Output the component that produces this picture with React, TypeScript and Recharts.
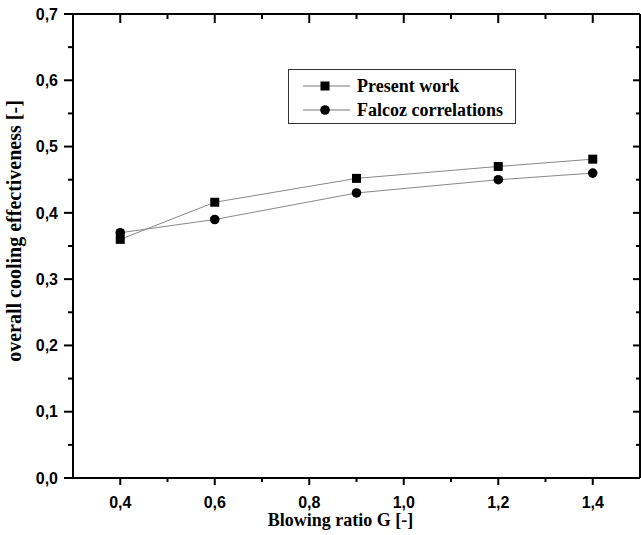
import { LineChart, Line, XAxis, YAxis, Legend, ReferenceLine } from 'recharts';

const blowingRatio = [0.4, 0.6, 0.9, 1.2, 1.4];
const presentWork = [0.36, 0.416, 0.452, 0.47, 0.481];
const falcozCorrelations = [0.37, 0.39, 0.43, 0.45, 0.46];

const xMajorTicks = [0.4, 0.6, 0.8, 1.0, 1.2, 1.4];
const xMinorTicks = [0.5, 0.7, 0.9, 1.1, 1.3];
const yMajorTicks = [0, 0.1, 0.2, 0.3, 0.4, 0.5, 0.6, 0.7];
const yMinorTicks = [0.05, 0.15, 0.25, 0.35, 0.45, 0.55, 0.65];

const data = blowingRatio.map((x, i) => ({
  x,
  present: presentWork[i],
  falcoz: falcozCorrelations[i],
}));

const X_DOMAIN: [number, number] = [0.3, 1.5];
const Y_DOMAIN: [number, number] = [0, 0.7];

// frame edges (top / right) for the inward ticks
const PLOT_TOP = 14;
const PLOT_RIGHT = 640;

const serif = '"Liberation Serif", "Times New Roman", serif';
const sans = '"Liberation Sans", Arial, sans-serif';

const fmt = (v: number) => v.toFixed(1).replace('.', ',');

const axisLine = { stroke: '#000', strokeWidth: 2 };

const XTick = (props: any) => {
  const { x, y, payload } = props;
  const major = xMajorTicks.includes(payload.value);
  return (
    <g>
      <line x1={x} x2={x} y1={y} y2={y + (major ? 7 : 4)} stroke="#000" strokeWidth={2} />
      <line x1={x} x2={x} y1={PLOT_TOP} y2={PLOT_TOP + (major ? 9 : 5)} stroke="#000" strokeWidth={2} />
      {major && (
        <text x={x} y={y + 19} dy="0.71em" textAnchor="middle" fill="#000" fontSize={16}
          fontWeight="bold" fontFamily={sans}>
          {fmt(payload.value)}
        </text>
      )}
    </g>
  );
};

const YTick = (props: any) => {
  const { x, y, payload } = props;
  const major = yMajorTicks.includes(payload.value);
  return (
    <g>
      <line x1={x - (major ? 9 : 5)} x2={x} y1={y} y2={y} stroke="#000" strokeWidth={2} />
      <line x1={PLOT_RIGHT - (major ? 7 : 4)} x2={PLOT_RIGHT} y1={y} y2={y} stroke="#000" strokeWidth={2} />
      {major && (
        <text x={x - 15} y={y} dy="0.36em" textAnchor="end" fill="#000" fontSize={16}
          fontWeight="bold" fontFamily={sans}>
          {fmt(payload.value)}
        </text>
      )}
    </g>
  );
};

const SquareDot = (props: any) => {
  const { cx, cy } = props;
  if (cx == null || cy == null) return null;
  return <rect x={cx - 4.5} y={cy - 4.5} width={9} height={9} fill="#000" />;
};

const CircleDot = (props: any) => {
  const { cx, cy } = props;
  if (cx == null || cy == null) return null;
  return <circle cx={cx} cy={cy} r={4.8} fill="#000" />;
};

const LegendBox = () => (
  <svg width={228} height={55} style={{ display: 'block' }}>
    <rect x={0.5} y={0.5} width={227} height={54} fill="#fff" stroke="#333" strokeWidth={1} />
    <line x1={15} x2={62} y1={17} y2={17} stroke="#777" strokeWidth={1} />
    <rect x={32.5} y={12.5} width={9} height={9} fill="#000" />
    <text x={69} y={17} dominantBaseline="central" fontFamily={serif} fontWeight="bold" fontSize={18} fill="#000">
      Present work
    </text>
    <line x1={15} x2={62} y1={41} y2={41} stroke="#777" strokeWidth={1} />
    <circle cx={37} cy={41} r={4.8} fill="#000" />
    <text x={69} y={41} dominantBaseline="central" fontFamily={serif} fontWeight="bold" fontSize={18} fill="#000">
      Falcoz correlations
    </text>
  </svg>
);

const YTitle = () => {
  const cx = 14;
  const cy = 231;
  return (
    <text x={cx} y={cy} transform={`rotate(-90, ${cx}, ${cy})`} textAnchor="middle" dominantBaseline="central"
      fontFamily={serif} fontWeight="bold" fontSize={20} fill="#000">
      overall cooling effectiveness [-]
    </text>
  );
};

const allX = [...xMajorTicks, ...xMinorTicks].sort((a, b) => a - b);
const allY = [...yMajorTicks, ...yMinorTicks].sort((a, b) => a - b);

export default function App() {
  return (
    <div style={{ position: 'absolute', left: 0, top: 0, background: '#fff' }}>
      <LineChart width={641} height={535} data={data} margin={{ top: 14, right: 1, bottom: 0, left: 13 }}>
        <XAxis type="number" dataKey="x" domain={X_DOMAIN} allowDataOverflow ticks={allX} interval={0}
          height={57} axisLine={axisLine} tickLine={false} tickSize={0} tickMargin={0} tick={XTick}
          label={{ value: 'Blowing ratio G [-]', position: 'insideBottom', offset: 9, dx: -16, fill: '#000',
            fontSize: 18, fontWeight: 'bold', fontFamily: serif }} />
        <YAxis type="number" domain={Y_DOMAIN} allowDataOverflow ticks={allY} interval={0}
          width={60} axisLine={axisLine} tickLine={false} tickSize={0} tickMargin={0} tick={YTick}
          label={{ content: YTitle }} />

        {/* top and right edges of the frame */}
        <ReferenceLine y={Y_DOMAIN[1]} stroke="#000" strokeWidth={2} />
        <ReferenceLine x={X_DOMAIN[1]} stroke="#000" strokeWidth={2} />

        <Legend layout="vertical" align="center" verticalAlign="middle" content={LegendBox}
          wrapperStyle={{ position: 'absolute', left: 288, top: 69, width: 228, height: 55 }} />

        <Line dataKey="present" name="Present work" stroke="#888" strokeWidth={1} dot={SquareDot}
          activeDot={false} isAnimationActive={false} />
        <Line dataKey="falcoz" name="Falcoz correlations" stroke="#888" strokeWidth={1} dot={CircleDot}
          activeDot={false} isAnimationActive={false} />
      </LineChart>
    </div>
  );
}
